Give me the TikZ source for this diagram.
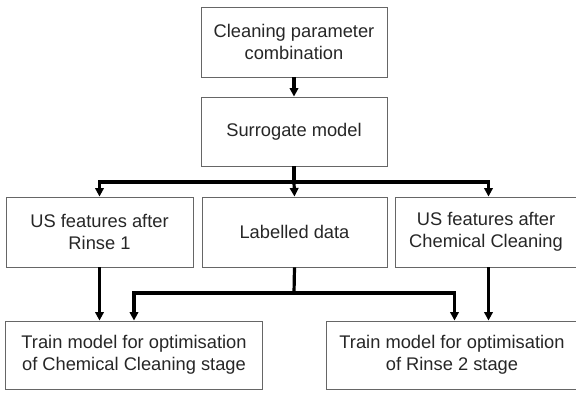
\documentclass[tikz,border=0pt]{standalone}
\usepackage{fontspec}
\setmainfont{Liberation Sans}
\usetikzlibrary{arrows.meta}
\begin{document}
\begin{tikzpicture}[x=1pt,y=-1pt,
  box/.style={draw=black!60, line width=0.9pt, rectangle, inner sep=0pt,
    align=center, text=black!85, font=\fontsize{18.3}{21.5}\selectfont},
  txt/.style={inner sep=0pt, align=center, text=black!85,
    font=\fontsize{18.3}{21.5}\selectfont},
  flow/.style={line width=3.2pt, black},
  arr/.style={flow, -{Triangle[length=8.5pt,width=8.5pt]}}]
\useasboundingbox (0,0) rectangle (576,392);
\clip (0,0) rectangle (576,392);

% upper chain
\node[box, minimum width=186pt, minimum height=70pt] (cpc) at (294,42)
  {Cleaning parameter\\combination};
\node[box, minimum width=186pt, minimum height=69pt] (sur) at (294,131.5)
  {Surrogate model};

% middle row
\node[box, minimum width=187pt, minimum height=70pt] (us1) at (99.5,232)
  {US features after\\Rinse 1};
\node[box, minimum width=185pt, minimum height=70pt] (lab) at (294.5,232)
  {Labelled data};
\node[box, minimum width=200pt, minimum height=70pt] (us2) at (495,232) {};
\node[txt] (us2t) at (486,232) {US features after\\Chemical Cleaning};

% bottom row
\node[box, minimum width=257pt, minimum height=68pt] (tcc) at (134,355)
  {Train model for optimisation\\of Chemical Cleaning stage};
\node[box, minimum width=280pt, minimum height=68pt] (tr2) at (466,355) {};
\node[txt] (tr2t) at (452,355) {Train model for optimisation\\of Rinse 2 stage};

% junctions
\coordinate (j1) at (294,182);
\coordinate (j2) at (294,293);

% connectors
\draw[arr] (cpc.south) -- (sur.north);
\draw[flow] (sur.south) -- (j1);
\draw[arr] (j1) -| (us1.north);
\draw[arr] (j1) -- (lab.north);
\draw[arr] (j1) -| ([xshift=-6.5pt]us2.north);

\draw[arr] (us1.south) -- (us1.south |- tcc.north);
\draw[flow] (lab.south) -- (j2);
\draw[arr] (j2) -| (tcc.north);
\draw[arr] (j2) -| ([xshift=-11.5pt]tr2.north);
\draw[arr] ([xshift=-6.5pt]us2.south) -- ([xshift=-6.5pt]us2.south |- tr2.north);
\end{tikzpicture}
\end{document}
